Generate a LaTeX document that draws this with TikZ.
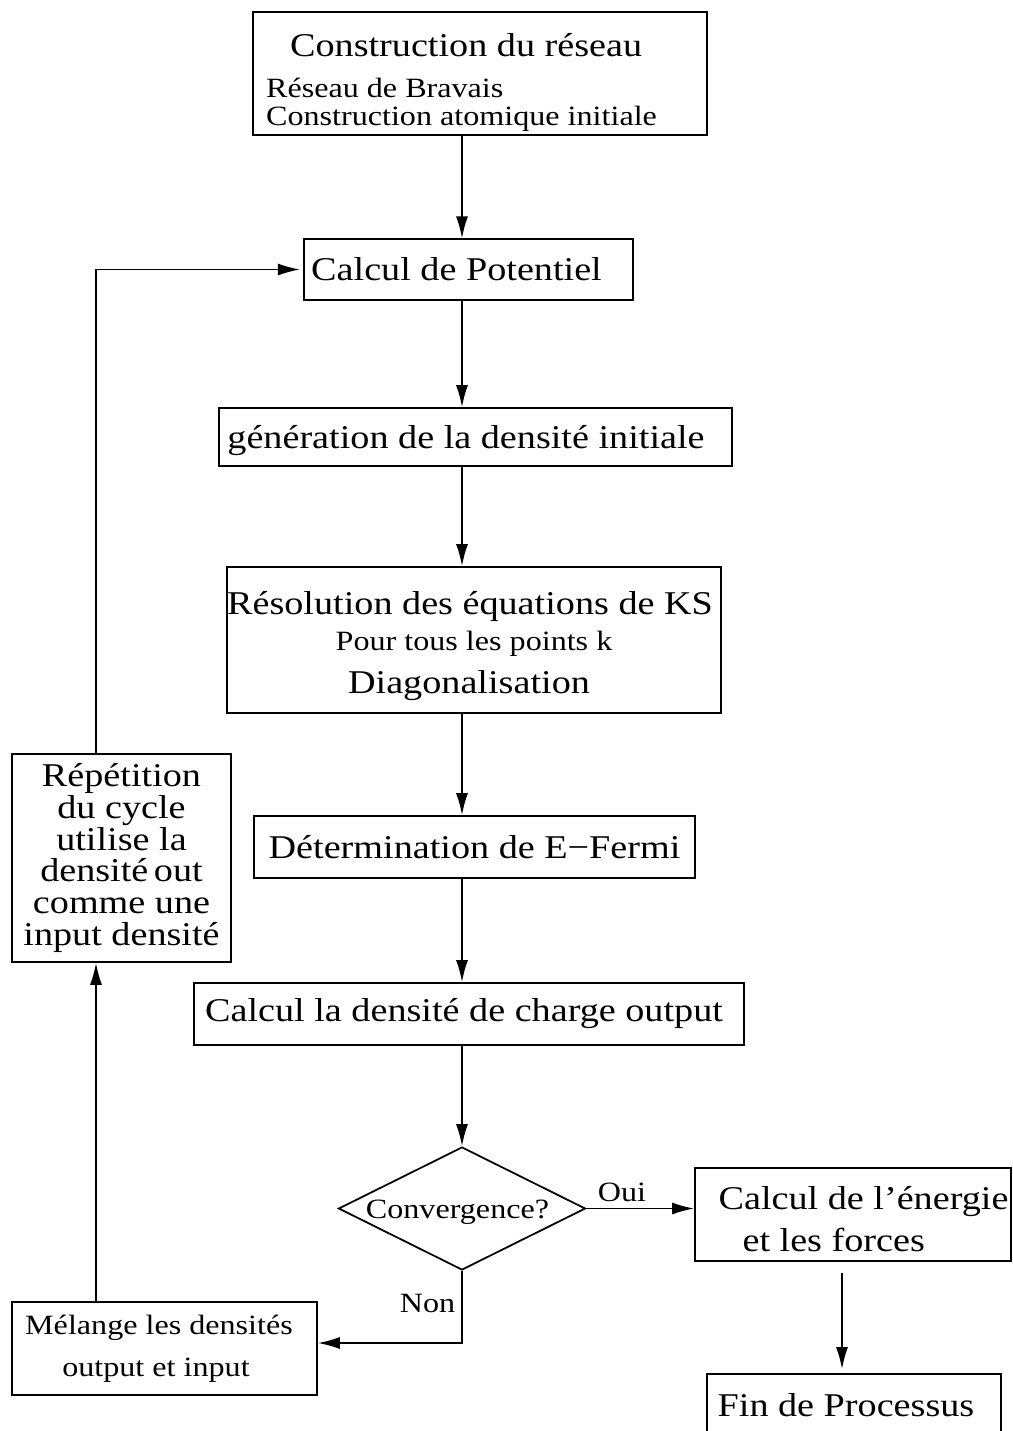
\documentclass[tikz,border=0pt]{standalone}
\usepackage{fontspec}
\setmainfont[FakeStretch=1.15]{Liberation Serif}
\usetikzlibrary{arrows.meta,shapes.geometric}
\newcommand{\grand}{\fontsize{18.9}{18}\selectfont}
\newcommand{\petit}{\fontsize{15.9}{16.4}\selectfont}

\begin{document}
\begin{tikzpicture}[x=0.02cm, y=-0.02cm]
\tikzset{boite/.style={draw, line width=1pt, inner sep=0pt, font=\grand},
  fleche/.style={line width=1pt, -{Latex[length=0.44cm, width=0.24cm]}},
  losange/.style={draw, diamond, aspect=2, line width=1pt, inner sep=0pt, font=\petit}}
\clip (0, 0) rectangle (1013, 1431);
\coordinate (axe) at (462, 0);
\coordinate (axe2) at (842, 0);
\coordinate (axe3) at (96, 0);
\node[boite, minimum width=9.08cm, minimum height=2.46cm, align=left, font=\petit] (B1) at (480, 73.5)
  {{\grand\rule{0pt}{0.82cm}\hspace*{0.48cm}Construction du réseau}\\[0.24cm]Réseau de Bravais\\Construction atomique initiale\hspace*{0.74cm}};
\node[boite, minimum width=6.57cm, minimum height=1.21cm] (B2) at (468.5, 269.5) {Calcul de Potentiel\hspace*{0.48cm}};
\node[boite, minimum width=10.26cm, minimum height=1.16cm, text height=0.62cm] (B3) at (475.5, 437) {génération de la densité initiale\hspace*{0.38cm}};
\node[boite, minimum width=9.72cm, minimum height=2.92cm, align=center] (B4) at (474, 640)
  {\rule{0pt}{0.7cm}Résolution des équations de KS\hspace*{0.16cm}\\[0.1cm]{\petit Pour tous les points k}\hspace*{0.72cm}\\[0.22cm]Diagonalisation\hspace*{0.2cm}};
\node[boite, minimum width=8.82cm, minimum height=1.24cm] (B5) at (474.5, 847) {Détermination de E−Fermi};
\node[boite, minimum width=11cm, minimum height=1.24cm] (B6) at (469, 1014) {Calcul la densité de charge output\hspace*{0.2cm}};
\node[losange, minimum width=4.94cm, minimum height=2.46cm, text height=0.4cm, text depth=0cm] (conv) at (462, 1208.5) {Convergence?\hspace*{0.18cm}};
\node[boite, minimum width=6.32cm, minimum height=1.86cm, align=left] (B7) at (853, 1214.5)
  {\rule{0pt}{0.64cm}\hspace*{0.42cm}Calcul de l’énergie\\[0.2cm]\hspace*{0.9cm}et les forces};
\node[boite, minimum width=5.88cm, minimum height=1.24cm] (B8) at (854, 1405) {Fin de Processus\hspace*{0.32cm}};
\node[boite, minimum width=6.1cm, minimum height=1.86cm, align=center, font=\petit] (B9) at (164.5, 1348.5)
  {Mélange les densités\hspace*{0.22cm}\\[0.26cm]output et input\hspace*{0.34cm}};
\node[boite, minimum width=4.38cm, minimum height=4.16cm, align=center] (B10) at (121.5, 858)
  {Répétition\\du cycle\\utilise la\\densité\,out\\comme une\\input densité};
\coordinate (coin) at (462, 1343);
\draw[fleche] (B1.south -| axe) -- (B2.north -| axe);
\draw[fleche] (B2.south -| axe) -- (B3.north -| axe);
\draw[fleche] (B3.south -| axe) -- (B4.north -| axe);
\draw[fleche] (B4.south -| axe) -- (B5.north -| axe);
\draw[fleche] (B5.south -| axe) -- (B6.north -| axe);
\draw[fleche] (B6.south -| axe) -- (conv.north);
\draw[fleche] (conv.east) -- node[above, pos=0.33, font=\petit] {Oui} (B7.west |- conv.east);
\draw[fleche, shorten <=0.22cm, shorten >=0.08cm] (B7.south -| axe2) -- (B8.north -| axe2);
\draw[fleche] (conv.south) -- node[left, pos=0.45, font=\petit] {Non} (coin) -- (B9.east |- coin);
\draw[fleche] (B9.north -| axe3) -- (B10.south -| axe3);
\draw[fleche, shorten >=0.07cm] (B10.north -| axe3) |- (B2.west);
\end{tikzpicture}
\end{document}
